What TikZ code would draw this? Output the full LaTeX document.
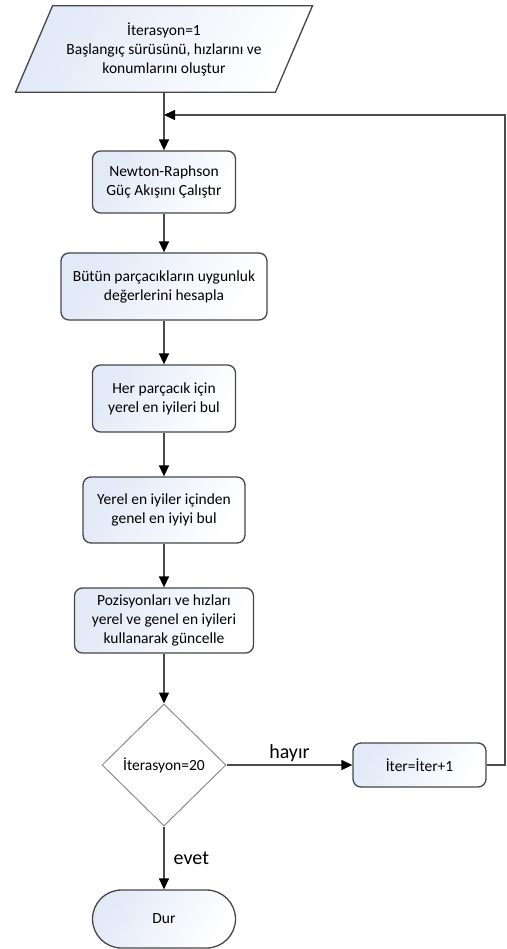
\documentclass[tikz,border=0pt]{standalone}
\usepackage{fontspec}
\setmainfont{Carlito}
\usetikzlibrary{arrows.meta, shapes.geometric, backgrounds}
\definecolor{boxblue}{RGB}{226,233,247}
\definecolor{boxline}{RGB}{70,70,70}
\definecolor{lineg}{RGB}{75,75,75}
\definecolor{diamg}{RGB}{140,140,140}
\begin{document}
\begin{tikzpicture}
  [
    x = 1pt, y = -1pt,
    every node/.style = {font = \fontsize{15.5}{19}\selectfont, align = center, inner sep = 0pt},
    box/.style = {draw = boxline, line width = 1.3pt, rounded corners = 8pt, left color = boxblue, right color = white, shading angle = 60},
    arr/.style = {-{Triangle[length = 11pt, width = 10pt, black]}, line width = 1.4pt, draw = lineg},
    lbl/.style = {font = \fontsize{20}{24}\selectfont}
  ]
    \useasboundingbox (0,0) rectangle (506,949);
    \node (a) [minimum width = 259.5pt, minimum height = 86pt] at (164,49) {İterasyon=1\\Başlangıç sürüsünü, hızlarını ve\\konumlarını oluştur};
    \begin{pgfonlayer}{background}
      \shade [draw = boxline, line width = 1.3pt, left color = boxblue, right color = white, shading angle = 60]
        ([xshift = 18.5pt]a.north west) -- ([xshift = 18.5pt]a.north east)
        -- ([xshift = -18.5pt]a.south east) -- ([xshift = -18.5pt]a.south west) -- cycle;
    \end{pgfonlayer}
    \node (b) [box, minimum width = 143pt, minimum height = 62pt] at (164,182) {Newton-Raphson\\Güç Akışını Çalıştır};
    \node (c) [box, minimum width = 206pt, minimum height = 67pt] at (164,286.5) {Bütün parçacıkların uygunluk\\değerlerini hesapla};
    \node (d) [box, minimum width = 143pt, minimum height = 67pt] at (164,398.5) {Her parçacık için\\yerel en iyileri bul};
    \node (e) [box, minimum width = 162pt, minimum height = 66pt] at (164,510) {Yerel en iyiler içinden\\genel en iyiyi bul};
    \node (f) [box, minimum width = 179pt, minimum height = 65pt] at (164,620.5) {Pozisyonları ve hızları\\yerel ve genel en iyileri\\kullanarak güncelle};
    \node (g) [draw = diamg, line width = 1pt, fill = white, diamond, minimum width = 124pt, minimum height = 122pt] at (164,765) {İterasyon=20};
    \node (h) [box, minimum width = 133pt, minimum height = 44pt] at (419.5,765) {İter=İter+1};
    \node (i) [box, rounded corners = 29pt, minimum width = 143pt, minimum height = 58pt] at (164,919) {Dur};
    \coordinate (j) at (164,115);
    \coordinate (k) at (505,765);
    \coordinate (l) at (505,115);
    \draw [arr] (a.south) -- (b.north);
    \draw [arr] (b.south) -- (c.north);
    \draw [arr] (c.south) -- (d.north);
    \draw [arr] (d.south) -- (e.north);
    \draw [arr] (e.south) -- (f.north);
    \draw [arr] (f.south) -- (g.north);
    \draw [arr] (g.east) -- (h.west) node [lbl, midway, above = 3pt] {hayır};
    \draw [arr] (g.south) -- (i.north) node [lbl, midway, right = 9pt] {evet};
    \draw [arr] (h.east) -- (k) -- (l) -- (j);
  \end{tikzpicture}
\end{document}
